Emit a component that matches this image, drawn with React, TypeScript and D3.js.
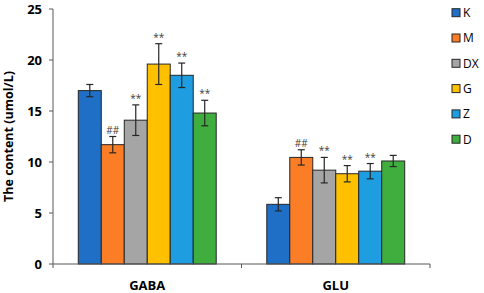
import React from "react";
import * as d3 from "d3";

const categories = ["GABA", "GLU"];
const groups = ["K", "M", "DX", "G", "Z", "D"];
const colors = ["#1f6fc6", "#fb7d26", "#a5a5a5", "#ffc000", "#1e9ee0", "#3fae3f"];
const gabaValues = [17.0, 11.7, 14.1, 19.6, 18.5, 14.8];
const gabaErrors = [0.6, 0.8, 1.5, 2.0, 1.2, 1.25];
const gabaMarks = ["", "##", "**", "**", "**", "**"];
const gluValues = [5.85, 10.45, 9.2, 8.85, 9.1, 10.1];
const gluErrors = [0.65, 0.75, 1.25, 0.8, 0.75, 0.55];
const gluMarks = ["", "##", "**", "**", "**", ""];
const yTicks = [0, 5, 10, 15, 20, 25];

const values = [gabaValues, gluValues];
const errors = [gabaErrors, gluErrors];
const marks = [gabaMarks, gluMarks];

export default function App() {
  const W = 484, H = 293;
  const left = 53, right = 430, top = 9, bottom = 264;
  const font = "'Open Sans', 'Liberation Sans', sans-serif";
  const y = d3.scaleLinear().domain([0, 25]).range([bottom, top]);
  const x0 = d3.scaleBand().domain(categories).range([left, right]).paddingInner(0).paddingOuter(0);
  const x1 = d3.scaleBand().domain(groups).range([0, x0.bandwidth()]).paddingInner(0).paddingOuter(1.1);
  return (
    <div style={{ position: "absolute", left: 0, top: 0 }}>
      <svg width={W} height={H} style={{ display: "block" }} fontFamily={font}>
        <rect width={W} height={H} fill="white" />
        {categories.map((c, ci) =>
          groups.map((g, gi) => {
            const v = values[ci][gi];
            const e = errors[ci][gi];
            const bx = (x0(c) as number) + (x1(g) as number);
            const bw = x1.bandwidth();
            const cx = bx + bw / 2;
            return (
              <g key={c + g}>
                <rect x={bx} y={y(v)} width={bw} height={y(0) - y(v)} fill={colors[gi]} stroke="#262626" strokeWidth={1} />
                <line x1={cx} x2={cx} y1={y(v + e)} y2={y(v - e)} stroke="#262626" strokeWidth={1.2} />
                <line x1={cx - 3.5} x2={cx + 3.5} y1={y(v + e)} y2={y(v + e)} stroke="#262626" strokeWidth={1.2} />
                <line x1={cx - 3.5} x2={cx + 3.5} y1={y(v - e)} y2={y(v - e)} stroke="#262626" strokeWidth={1.2} />
                {marks[ci][gi] && (
                  <text x={cx} y={y(v + e) - 3} textAnchor="middle" fontSize={10} fill="#404040">
                    {marks[ci][gi]}
                  </text>
                )}
              </g>
            );
          })
        )}
        {/* y axis */}
        <line x1={left} x2={left} y1={top} y2={bottom} stroke="#595959" strokeWidth={1} />
        {yTicks.map((t) => (
          <g key={t}>
            <line x1={left - 4} x2={left} y1={y(t)} y2={y(t)} stroke="#595959" />
            <text x={left - 11} y={y(t)} dy="0.36em" textAnchor="end" fontSize={13} fontWeight="bold" fill="#000">
              {t}
            </text>
          </g>
        ))}
        {/* x axis */}
        <line x1={left} x2={right} y1={bottom} y2={bottom} stroke="#595959" strokeWidth={1} />
        {[left, left + x0.bandwidth(), right].map((t, i) => (
          <line key={i} x1={t} x2={t} y1={bottom} y2={bottom + 4} stroke="#595959" />
        ))}
        {categories.map((c) => (
          <text key={c} x={(x0(c) as number) + x0.bandwidth() / 2} y={290} textAnchor="middle" fontSize={13} fontWeight="bold" fill="#000">
            {c}
          </text>
        ))}
        <text transform={`translate(13,${(top + bottom) / 2}) rotate(-90)`} textAnchor="middle" fontSize={12.5} fontWeight="bold" fill="#000">
          The content (umol/L)
        </text>
        {/* legend */}
        {groups.map((g, gi) => (
          <g key={g} transform={`translate(452,${12.7 + gi * 25.3})`}>
            <rect x={0} y={-4} width={8} height={8} fill={colors[gi]} stroke="#262626" strokeWidth={1} />
            <text x={11} y={0} dy="0.36em" fontSize={12} fill="#000">
              {g}
            </text>
          </g>
        ))}
      </svg>
    </div>
  );
}
